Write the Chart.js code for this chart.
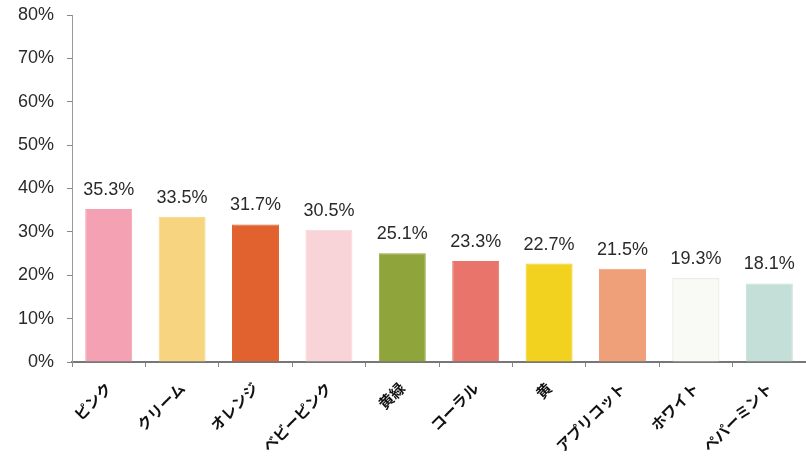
<!DOCTYPE html>
<html lang="ja">
<head>
<meta charset="UTF-8">
<title>好きな色</title>
<script src="https://cdn.jsdelivr.net/npm/chart.js@4/dist/chart.umd.min.js"></script>
<style>
  html, body { margin: 0; padding: 0; background: #fff; }
  .wrap { width: 806px; height: 470px; }
</style>
</head>
<body>
<div class="wrap"><canvas id="colorChart" width="806" height="470"></canvas></div>
<script>
// data
const categories = ['ピンク', 'クリーム', 'オレンジ', 'ベビーピンク', '黄緑', 'コーラル', '黄', 'アプリコット', 'ホワイト', 'ペパーミント'];
const values = [35.3, 33.5, 31.7, 30.5, 25.1, 23.3, 22.7, 21.5, 19.3, 18.1];
const barColors = ['#F3A1B3', '#F7D47F', '#E1622F', '#F8D4D8', '#8FA43A', '#E8746C', '#F3D11F', '#F0A079', '#F9F9F5', '#C4DFD7'];
const barBorders = ['#F3A1B3', '#F7D47F', '#E1622F', '#F8D4D8', '#8FA43A', '#E8746C', '#F3D11F', '#F0A079', '#DCDCD6', '#C4DFD7'];
const yTicks = [0, 10, 20, 30, 40, 50, 60, 70, 80];

const FONT = '"Liberation Sans", Arial, sans-serif';

// value labels above the bars
const valueLabels = {
  id: 'valueLabels',
  afterDatasetsDraw(chart) {
    const ctx = chart.ctx;
    const meta = chart.getDatasetMeta(0);
    ctx.save();
    ctx.font = '18px ' + FONT;
    ctx.fillStyle = '#2a2a2a';
    ctx.textAlign = 'center';
    ctx.textBaseline = 'bottom';
    meta.data.forEach((bar, i) => {
      ctx.fillText(values[i].toFixed(1) + '%', bar.x, bar.y - 10);
    });
    ctx.restore();
  }
};

new Chart(document.getElementById('colorChart'), {
  type: 'bar',
  data: {
    labels: categories,
    datasets: [{
      data: values,
      backgroundColor: barColors,
      borderColor: barBorders,
      borderWidth: 1,
      barPercentage: 0.8,
      categoryPercentage: 0.8
    }]
  },
  options: {
    responsive: false,
    animation: false,
    layout: { padding: { top: 15, right: 0, left: 0, bottom: 0 } },
    plugins: { legend: { display: false }, tooltip: { enabled: false } },
    scales: {
      x: {
        grid: { drawOnChartArea: false, tickLength: 5, color: '#888' },
        border: { color: '#777', width: 2 },
        ticks: {
          color: '#111',
          font: { family: '"Noto Sans CJK JP", sans-serif', size: 15, weight: 'bold' },
          minRotation: 45,
          maxRotation: 45,
          padding: 12
        },
        afterFit(scale) { scale.height = 108; }
      },
      y: {
        min: 0,
        max: 80,
        afterBuildTicks(scale) { scale.ticks = yTicks.map(v => ({ value: v })); },
        grid: { drawOnChartArea: false, tickLength: 5, color: '#888' },
        border: { color: '#999', width: 1 },
        ticks: {
          color: '#2a2a2a',
          font: { family: FONT, size: 18 },
          padding: 13,
          callback: v => v + '%'
        },
        afterFit(scale) {
          scale.width = 72;
          scale.paddingTop = 0;
          scale.paddingBottom = 0;
        }
      }
    }
  },
  plugins: [valueLabels]
});
</script>
</body>
</html>
